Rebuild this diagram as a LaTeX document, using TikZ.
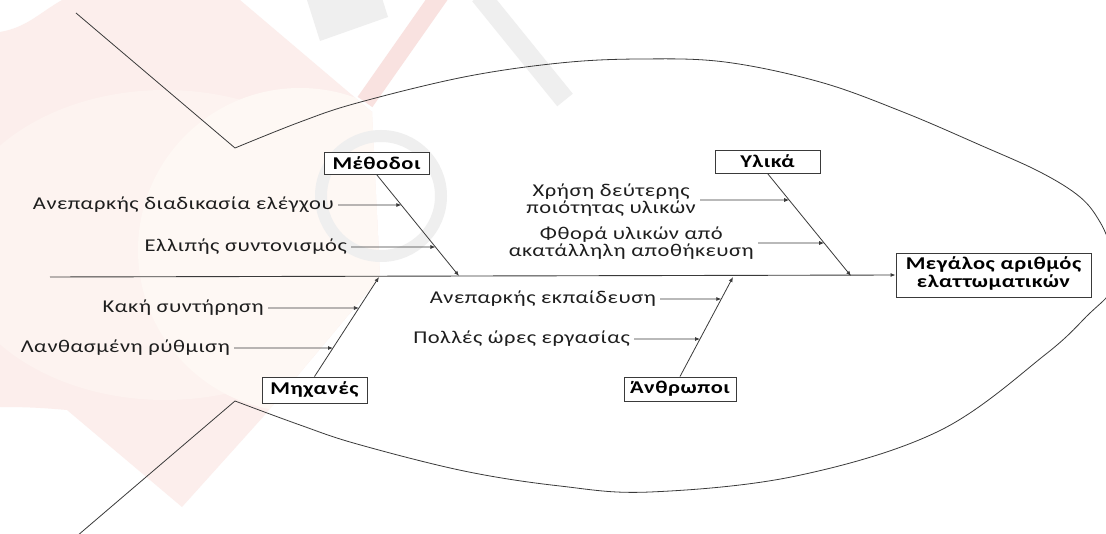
\documentclass[tikz,border=0pt]{standalone}
\usepackage{fontspec}
\setmainfont{Carlito}[FakeStretch=1.25, LetterSpace=3]
\usetikzlibrary{arrows.meta,calc}
\definecolor{linec}{HTML}{3A3A3A}
\definecolor{txt}{HTML}{1E1E1E}
\definecolor{pinkA}{HTML}{FCEEEC}
\definecolor{pinkL}{HTML}{FDF3F0}
\definecolor{pinkLL}{HTML}{FEF8F4}
\definecolor{pinkB}{HTML}{F9E2E0}
\definecolor{wmgray}{HTML}{EFEFEF}
\begin{document}
\begin{tikzpicture}[x=1pt,y=-1pt,
  fishl/.style={draw=linec, line width=0.8pt},
  wline/.style={draw=linec, line width=0.9pt},
  cause/.style={draw=linec, line width=0.8pt, -{Latex[length=5pt,width=4pt]}},
  catbox/.style={draw=linec, line width=0.9pt, fill=white, text=black, inner sep=0pt,
    font=\fontsize{18}{18}\selectfont\bfseries},
  lab/.style={text=txt, inner xsep=4pt, inner ysep=1pt, anchor=east, align=center,
    font=\fontsize{18}{17.5}\selectfont}]
\useasboundingbox (0,0) rectangle (1106,534);
\clip (0,0) rectangle (1106,534);
\fill[white] (0,0) rectangle (1106,534);
% watermark
\begin{scope}
  \clip (62,0) -- (240,0) -- (372,112) -- (380,277) -- (263,417) -- (182,507) -- (67,410)
        to[out=175,in=0] (0,407) -- (0,32) to[out=10,in=210] cycle;
  \fill[pinkA] (0,0) rectangle (400,534);
  \fill[pinkL] (165,245) ellipse (215 and 155);
  \fill[pinkLL] (300,250) circle (162);
\end{scope}
\draw[pinkB, line width=18pt] (365,102) -- (440,-5);
\fill[wmgray] (307,0) -- (320,41) -- (388,17) -- (375,-24) -- cycle;
\draw[wmgray, line width=20pt] (480,-5) -- (565,100);
\draw[wmgray, line width=12pt] (381,196) circle (60);
% fish outline
\draw[fishl] (76,13) -- (235,148);
\draw[fishl] plot[smooth,tension=0.6] coordinates {(235,148) (300,122) (357,103) (464,77) (560,63) (640,59) (725,62) (820,82) (903,112) (980,145) (1040,172) (1080,197) (1100,222) (1112,250) (1120,278)};
\draw[fishl] plot[smooth,tension=0.6] coordinates {(235,401) (300,425) (357,444) (464,471) (560,486) (650,492) (796,476) (939,431) (1046,354) (1090,313) (1107,297) (1120,280)};
\draw[fishl] (235,401) -- (70,542);
% head and categories
\node[catbox, minimum width=195pt, minimum height=44pt] (H) at (993.5,275)
  {\begin{tabular}{@{}c@{}}Μεγάλος αριθμός\\[0pt]ελαττωματικών\end{tabular}};
\node[catbox, minimum width=105pt, minimum height=22pt] (M) at (376.5,163) {Μέθοδοι};
\node[catbox, minimum width=105pt, minimum height=23pt] (Y) at (767.5,161.5) {Υλικά};
\node[catbox, minimum width=105pt, minimum height=26pt] (X) at (314.5,390) {Μηχανές};
\node[catbox, minimum width=112pt, minimum height=24pt] (A) at (680,389) {Άνθρωποι};
% spine
\coordinate (sp) at (50,277);
\draw[wline, -{Latex[length=5pt,width=4pt]}] (sp) -- (H.west);
% bone ends on the spine
\coordinate (mS) at (459,276);
\coordinate (yS) at (851,276);
\coordinate (xS) at (379,277);
\coordinate (aS) at (733,277);
\draw[cause] (M.south) -- (mS);
\draw[cause] (Y.south) -- (yS);
\draw[cause] (X.north) -- (xS);
\draw[cause] (A.north) -- (aS);
% cause labels
\node[lab] (lm1) at (338,205) {Ανεπαρκής διαδικασία ελέγχου};
\node[lab] (lm2) at (351,247) {Ελλιπής συντονισμός};
\node[lab] (ly1) at (700,200) {Χρήση δεύτερης\\ποιότητας υλικών};
\node[lab] (ly2) at (758,243) {Φθορά υλικών από\\ακατάλληλη αποθήκευση};
\node[lab] (lx1) at (268,308) {Κακή συντήρηση};
\node[lab] (lx2) at (234,348) {Λανθασμένη ρύθμιση};
\node[lab] (la1) at (660,299) {Ανεπαρκής εκπαίδευση};
\node[lab] (la2) at (634,339) {Πολλές ώρες εργασίας};
% arrow targets on the bones
\coordinate (m1) at (intersection of M.south--mS and lm1.east--lm1.west);
\coordinate (m2) at (intersection of M.south--mS and lm2.east--lm2.west);
\coordinate (y1) at (intersection of Y.south--yS and ly1.east--ly1.west);
\coordinate (y2) at (intersection of Y.south--yS and ly2.east--ly2.west);
\coordinate (x1) at (intersection of X.north--xS and lx1.east--lx1.west);
\coordinate (x2) at (intersection of X.north--xS and lx2.east--lx2.west);
\coordinate (a1) at (intersection of A.north--aS and la1.east--la1.west);
\coordinate (a2) at (intersection of A.north--aS and la2.east--la2.west);
\foreach \l/\t in {lm1/m1, lm2/m2, ly1/y1, ly2/y2, lx1/x1, lx2/x2, la1/a1, la2/a2}
  \draw[cause] (\l.east) -- (\t);
\end{tikzpicture}
\end{document}
